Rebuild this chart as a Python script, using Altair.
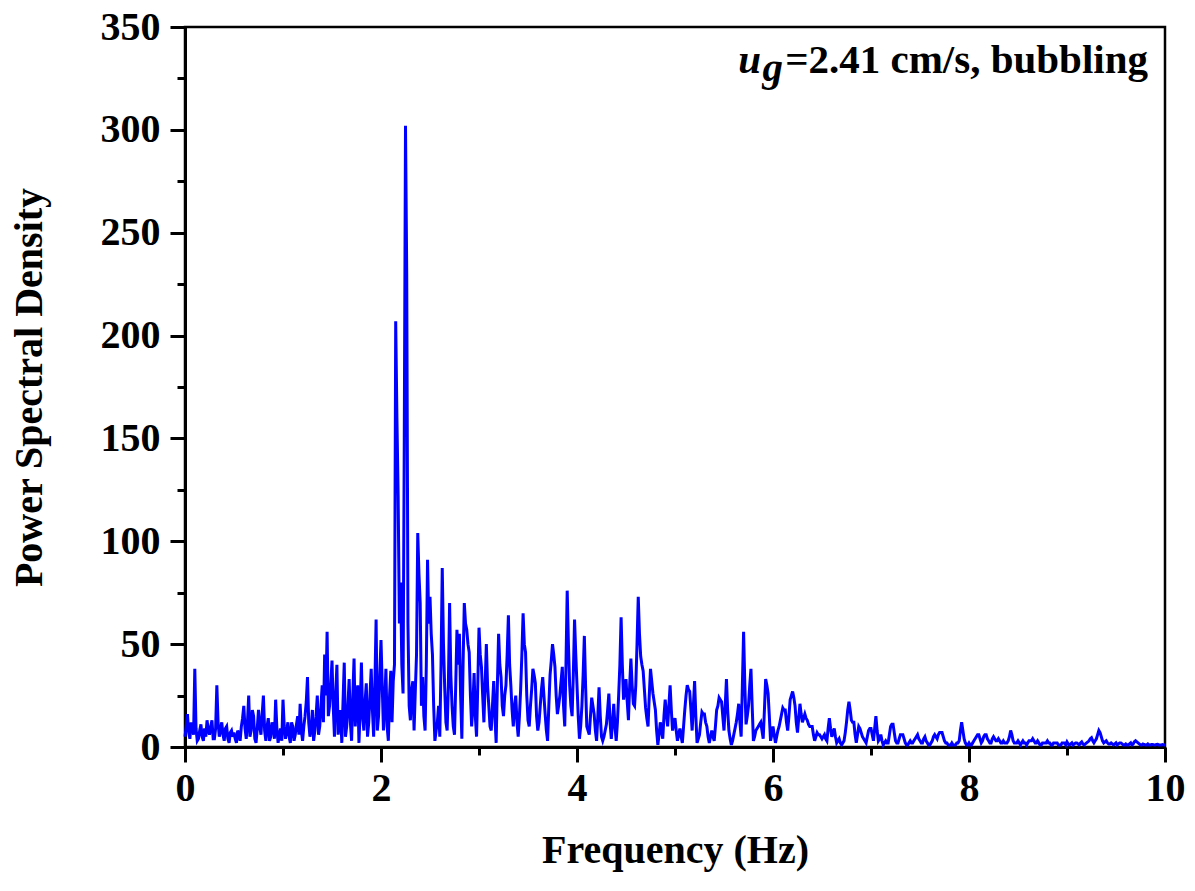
import altair as alt
import pandas as pd

# PSD values.
# psd: samples at 0, 0.025, 0.05, ... 10 Hz ; psd_mid: samples half-way between them.
FREQ_STEP = 0.025
psd = (
    [5, 16, 4, 10, 38, 3, 8, 5, 9, 13, 6, 13, 4, 30, 5, 12, 3, 10, 2, 8]
    + [7, 2, 6, 10, 20, 4, 25, 8, 15, 2, 18, 6, 25, 3, 14, 5, 10, 23, 2, 9]
    + [23, 4, 12, 2, 10, 6, 15, 21, 3, 15, 34, 5, 18, 8, 25, 10, 30, 45, 56, 20]
    + [42, 5, 40, 12, 2, 41, 10, 33, 3, 43, 23, 2, 41, 8, 31, 12, 38, 5, 62, 15]
    + [52, 8, 38, 3, 37, 32, 207, 122, 80, 26, 302, 60, 13, 32, 27, 104, 70, 34, 8, 91]
    + [73, 45, 3, 12, 5, 87, 29, 8, 70, 20, 6, 57, 55, 4, 70, 57, 46, 10, 36, 5]
    + [58, 39, 12, 50, 20, 8, 32, 2, 55, 34, 15, 30, 64, 30, 10, 25, 5, 28, 65, 46]
    + [13, 20, 38, 31, 8, 20, 34, 16, 3, 35, 50, 39, 16, 25, 39, 10, 76, 30, 15, 62]
    + [30, 4, 20, 54, 10, 6, 24, 16, 3, 29, 5, 5, 11, 26, 4, 21, 3, 25, 63, 23]
    + [33, 13, 43, 21, 30, 73, 44, 37, 19, 10, 38, 26, 18, 1, 12, 4, 23, 10, 30, 8]
    + [14, 3, 9, 2, 18, 30, 27, 8, 32, 2, 6, 17, 16, 10, 2, 8, 3, 18, 24, 22]
    + [8, 33, 8, 1, 6, 12, 21, 5, 56, 11, 20, 38, 3, 8, 10, 12, 4, 33, 26, 3]
    + [10, 2, 8, 13, 19, 18, 8, 23, 27, 20, 7, 21, 12, 16, 13, 10, 10, 3, 7, 6]
    + [4, 6, 3, 14, 5, 9, 2, 4, 1, 3, 12, 22, 13, 12, 2, 10, 7, 4, 2, 8]
    + [9, 3, 15, 3, 6, 1, 3, 2, 10, 11, 3, 2, 6, 6, 2, 1, 3, 2, 4, 6]
    + [3, 2, 5, 2, 1, 3, 6, 4, 7, 7, 3, 2, 1, 2, 1, 2, 3, 12, 4, 1]
    + [2, 1, 3, 5, 6, 2, 5, 6, 3, 2, 5, 3, 4, 2, 3, 2, 3, 8, 3, 2]
    + [3, 1, 3, 2, 2, 3, 4, 2, 3, 1, 2, 2, 3, 2, 1, 2, 2, 1, 2, 2]
    + [2.5, 1, 2, 1.5, 2, 1, 2.5, 1, 2, 3, 4.5, 2, 4, 8, 5, 2, 3, 1.5, 2, 1]
    + [2, 1.5, 2, 1, 1.5, 1, 2, 1.5, 3, 2, 1, 1.5, 1, 1.5, 1, 1.2, 1, 1.3, 1, 1.2, 1]
)
psd_mid = (
    [10, 7, 12, 6, 9, 4, 11, 3, 5, 8, 10, 4, 9, 12, 8, 6, 9, 4, 7, 5]
    + [4, 8, 3, 14, 9, 12, 5, 18, 4, 9, 10, 16, 8, 10, 3, 12, 4, 9, 6, 3]
    + [10, 8, 5, 12, 3, 11, 6, 8, 10, 22, 12, 9, 3, 15, 6, 20, 12, 25, 15, 30]
    + [20, 25, 6, 18, 22, 5, 20, 12, 25, 10, 30, 18, 15, 22, 5, 25, 18, 30, 8, 35]
    + [30, 20, 10, 25, 12, 40, 160, 60, 40, 150, 230, 20, 28, 8, 45, 84, 20, 15, 40, 60]
    + [55, 20, 8, 20, 40, 50, 12, 30, 35, 10, 30, 40, 25, 40, 60, 50, 25, 20, 15, 30]
    + [45, 25, 30, 30, 10, 20, 15, 30, 40, 20, 25, 45, 40, 18, 20, 12, 15, 45, 50, 25]
    + [10, 28, 35, 15, 12, 28, 25, 8, 20, 42, 45, 25, 20, 32, 20, 40, 50, 20, 35, 45]
    + [15, 10, 35, 30, 8, 15, 20, 8, 15, 15, 3, 8, 18, 12, 12, 10, 12, 40, 40, 28]
    + [22, 30, 30, 20, 50, 55, 40, 28, 14, 25, 32, 22, 8, 6, 8, 15, 16, 20, 18, 12]
    + [8, 6, 5, 10, 25, 28, 18, 20, 15, 4, 12, 16, 12, 5, 5, 5, 10, 20, 23, 15]
    + [20, 18, 4, 3, 9, 16, 12, 30, 30, 15, 30, 20, 5, 9, 11, 8, 18, 30, 15, 6]
    + [6, 5, 10, 16, 18, 12, 15, 25, 24, 12, 14, 16, 14, 14, 11, 10, 6, 5, 6, 5]
    + [5, 4, 9, 9, 7, 5, 3, 2, 2, 7, 18, 18, 12, 6, 6, 9, 5, 3, 5, 9]
    + [6, 9, 8, 4, 3, 2, 2, 6, 11, 7, 2, 4, 6, 4, 1, 2, 2, 3, 5, 4]
    + [2, 4, 3, 1, 2, 5, 5, 6, 7, 5, 2, 1, 1, 1, 1, 2, 8, 8, 2, 1]
    + [1, 2, 4, 6, 4, 3, 6, 4, 2, 4, 4, 3, 3, 2, 2, 2, 5, 6, 2, 2]
    + [2, 2, 2, 1, 3, 3, 3, 2, 2, 1, 2, 2, 2, 1, 2, 2, 1, 1, 2, 1]
    + [1.5, 1.5, 1, 2, 1.5, 2, 1.5, 1.5, 2.5, 4, 3, 3, 6, 7, 3, 2.5, 2, 1.5, 1.5, 1.5]
    + [1, 2, 1.5, 1, 1, 1.5, 1, 2.5, 2.5, 1.5, 1, 1.2, 1, 1, 1.2, 1, 1.2, 1, 1, 1]
)
freq = [round(i * FREQ_STEP, 4) for i in range(len(psd))]
freq_mid = [round(i * FREQ_STEP + FREQ_STEP / 2, 4) for i in range(len(psd_mid))]

x_ticks = list(range(0, 11))
y_ticks = list(range(0, 351, 25))
annotation_main = "=2.41 cm/s, bubbling"
annotation_u = "u"
annotation_g = "g"

df = (
    pd.DataFrame({"f": freq + freq_mid, "p": psd + psd_mid})
    .sort_values("f")
    .reset_index(drop=True)
)
df["order"] = range(len(df))

FONT = "Liberation Serif"

x_axis = alt.Axis(
    values=x_ticks,
    labelExpr="datum.value % 2 === 0 ? datum.label : ''",
    tickSize={"condition": {"test": "datum.value % 2 === 0", "value": 15}, "value": 8},
    tickWidth=3, tickColor="black",
    domainWidth=3, domainColor="black",
    labelFont=FONT, labelFontSize=40, labelFontWeight="bold", labelColor="black",
    labelPadding=6, labelFlush=False,
    grid=False,
    title="Frequency (Hz)",
    titleFont=FONT, titleFontSize=40, titleFontWeight="bold", titleColor="black",
    titleX=490, titleY=115, titleBaseline="alphabetic", titleAnchor="middle", titleAlign="center",
)
y_axis = alt.Axis(
    values=y_ticks,
    labelExpr="datum.value % 50 === 0 ? datum.label : ''",
    tickSize={"condition": {"test": "datum.value % 50 === 0", "value": 15}, "value": 8},
    tickWidth=3, tickColor="black",
    domainWidth=3, domainColor="black",
    labelFont=FONT, labelFontSize=40, labelFontWeight="bold", labelColor="black",
    labelPadding=10, labelFlush=False,
    grid=False,
    title="Power Spectral Density",
    titleFont=FONT, titleFontSize=40, titleFontWeight="bold", titleColor="black",
    titleAngle=-90, titleX=-156, titleY=360, titleBaseline="middle", titleAlign="center",
)

line = alt.Chart(df).mark_line(color="#0000FF", strokeWidth=3, strokeJoin="miter", strokeMiterLimit=4).encode(
    x=alt.X("f:Q", scale=alt.Scale(domain=[0, 10], nice=False, zero=False), axis=x_axis),
    y=alt.Y("p:Q", scale=alt.Scale(domain=[0, 350], nice=False), axis=y_axis),
    order="order:Q",
)

ann_main = alt.Chart(pd.DataFrame({"t": [annotation_main]})).mark_text(
    font=FONT, fontSize=41, fontWeight="bold", align="right", baseline="alphabetic", color="black"
).encode(x=alt.value(963), y=alt.value(46), text="t:N")

ann_u = alt.Chart(pd.DataFrame({"t": [annotation_u]})).mark_text(
    font=FONT, fontSize=41, fontWeight="bold", fontStyle="italic", align="right",
    baseline="alphabetic", color="black"
).encode(x=alt.value(576), y=alt.value(46), text="t:N")

ann_g = alt.Chart(pd.DataFrame({"t": [annotation_g]})).mark_text(
    font=FONT, fontSize=41, fontWeight="bold", fontStyle="italic", align="right",
    baseline="alphabetic", color="black"
).encode(x=alt.value(598), y=alt.value(54), text="t:N")

chart = (
    alt.layer(line, ann_main, ann_u, ann_g)
    .properties(
        width=980, height=720,
        autosize=alt.AutoSizeParams(type="none"),
        padding={"left": 185, "top": 27, "right": 30, "bottom": 144},
        background="white",
    )
    .configure_view(stroke="black", strokeWidth=2.5)
)

chart.save("out.html", embed_options={"renderer": "svg", "actions": False})
